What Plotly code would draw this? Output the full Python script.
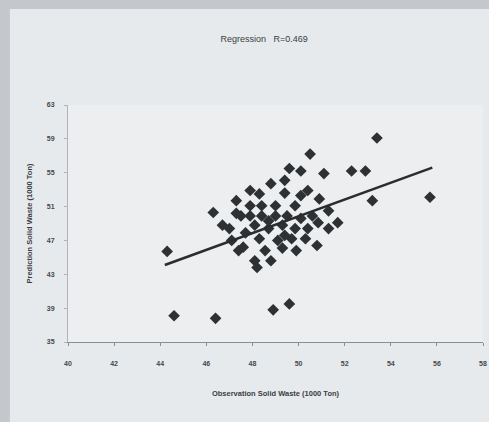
import plotly.graph_objects as go

observed = [44.3, 44.6, 46.4, 48.9, 49.6, 53.4, 55.7, 53.2, 52.3, 52.9,
            50.5, 51.1, 50.4, 50.9, 51.3, 51.7, 51.3, 50.8, 46.3, 46.7,
            47.3, 47.0, 47.4, 48.1, 48.2, 49.6, 50.1, 48.8, 49.4, 48.3,
            47.6, 49.3, 49.9, 47.9, 48.4, 49.0, 49.85, 47.9, 48.4, 49.0,
            49.5, 50.1, 50.6, 48.1, 48.7, 49.3, 49.85, 50.4, 47.7, 48.3,
            49.1, 49.7, 50.3, 48.55, 48.8, 47.9, 49.4, 47.5, 47.1, 49.4,
            48.7, 50.85, 47.3, 50.1]
predicted = [45.7, 38.1, 37.8, 38.8, 39.5, 59.1, 52.1, 51.7, 55.2, 55.2,
             57.2, 54.9, 52.9, 51.9, 50.5, 49.1, 48.4, 46.4, 50.3, 48.8,
             51.7, 48.4, 45.8, 44.6, 43.8, 55.5, 55.2, 53.7, 52.6, 52.5,
             46.2, 46.1, 45.8, 51.1, 51.1, 51.1, 51.1, 49.9, 49.9, 49.9,
             49.9, 49.6, 49.9, 48.8, 48.4, 48.8, 48.4, 48.4, 47.9, 47.2,
             47.0, 47.2, 47.2, 45.8, 44.6, 52.9, 54.1, 49.9, 47.0, 47.6,
             49.3, 49.1, 50.2, 52.3]

# Regression line end points
fit_x = [44.2, 55.8]
fit_y = [44.1, 55.6]

x_ticks = [40, 42, 44, 46, 48, 50, 52, 54, 56, 58]
y_ticks = [35, 39, 43, 47, 51, 55, 59, 63]

fig = go.Figure()
fig.add_trace(go.Scatter(
    x=observed, y=predicted, mode="markers",
    marker=dict(symbol="diamond", size=9, color="#2e3133",
                line=dict(width=0)),
    showlegend=False))
fig.add_trace(go.Scatter(
    x=fit_x, y=fit_y, mode="lines",
    line=dict(color="#2a2c2e", width=2.5),
    showlegend=False))

font = "Liberation Sans, Arial, sans-serif"
fig.update_layout(
    width=489, height=422,
    margin=dict(l=68, r=6, t=105, b=80),
    paper_bgcolor="#e7eaed",
    plot_bgcolor="#eceef0",
    font=dict(family=font, color="#3a3d40", size=8),
    title=dict(text="Regression   R=0.469", x=0.54, xanchor="center",
               y=0.908, yanchor="middle",
               font=dict(size=9, color="#3a3d40", family=font)),
)
fig.update_xaxes(
    range=[40, 58], tickvals=x_ticks,
    ticktext=["<b>%d</b>" % v for v in x_ticks],
    showgrid=False, zeroline=False, showline=True, linecolor="#8a8e92",
    linewidth=1, ticks="outside", ticklen=3, tickcolor="#8a8e92",
    tickfont=dict(size=7, color="#45484b"), ticklabelstandoff=12,
    ticklabeloverflow="allow", automargin=False,
    title=dict(text="<b>Observation Solid Waste (1000 Ton)</b>",
               font=dict(size=7.5), standoff=24))
fig.update_yaxes(
    range=[35, 63], tickvals=y_ticks,
    ticktext=["<b>%d</b>" % v for v in y_ticks],
    showgrid=False, zeroline=False, showline=True, linecolor="#b0b4b8",
    linewidth=1, ticks="outside", ticklen=3, tickcolor="#b0b4b8",
    tickfont=dict(size=7, color="#45484b"), ticklabelstandoff=8,
    automargin=False,
    title=dict(text="<b>Prediction Solid Waste (1000 Ton)</b>",
               font=dict(size=7.5), standoff=13))

# scan frame
fig.add_shape(type="rect", xref="paper", yref="paper",
              x0=-0.25, x1=-0.14, y0=-0.5, y1=1.6,
              fillcolor="#c4c8cc", line=dict(width=0), layer="below")
fig.add_shape(type="rect", xref="paper", yref="paper",
              x0=-0.25, x1=1.1, y0=1.405, y1=1.6,
              fillcolor="#c4c8cc", line=dict(width=0), layer="below")

fig.write_html("out.html",
               config={"displayModeBar": False},
               post_script="document.body.style.margin='0';")
